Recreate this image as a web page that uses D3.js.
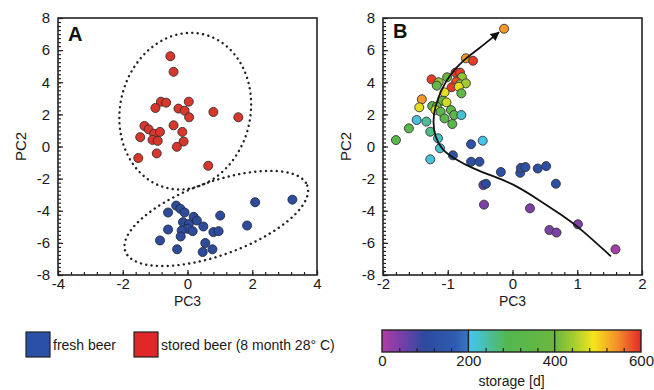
<!DOCTYPE html>
<html>
<head>
<meta charset="utf-8">
<script src="https://cdn.jsdelivr.net/npm/d3@7"></script>
<style>
  body { margin: 0; background: #fff; }
  svg { display: block; font-family: "Liberation Sans", Arial, sans-serif; }
</style>
</head>
<body>
<div id="chart"></div>
<script>
// panel A: fresh vs stored beer
const freshPC3 = [-0.35, -0.22, -0.60, -0.09, 0.19, 0.29, -0.14, 0.04, 0.00, 0.16, -0.18, -0.60, 0.49, 1.01, 0.80, 0.96, 1.84, 2.09, 3.24, -0.85, -0.21, -0.32, 0.55, 0.77, 0.47];
const freshPC2 = [-3.68, -3.88, -4.11, -4.11, -4.38, -4.61, -4.71, -4.83, -5.12, -5.27, -5.23, -5.17, -4.98, -4.30, -5.33, -5.27, -4.92, -3.47, -3.31, -5.85, -5.60, -6.40, -6.01, -6.40, -6.57];
const storedPC3 = [-0.53, -0.43, -0.82, -0.66, -0.99, 0.04, -0.28, -0.09, 0.05, 0.80, 1.57, -1.33, -1.20, -1.03, -0.85, -1.46, -1.08, -0.92, -0.43, -0.16, -0.12, -0.33, -0.95, -1.52, 0.64];
const storedPC2 = [5.62, 4.65, 2.79, 2.73, 2.40, 2.79, 2.36, 2.23, 1.82, 2.15, 1.82, 1.28, 1.07, 0.79, 0.91, 0.58, 0.41, 0.35, 1.32, 0.91, 0.31, -0.02, -0.43, -0.72, -1.20];

// confidence ellipses: centre, major half-axis vector, minor half-axis vector (data units)
const storedEllipse = [-0.07, 2.20, 0.55, 4.79, 1.96, -0.91];
const freshEllipse = [0.89, -4.48, 2.81, 2.05, 0.39, -2.14];

// panel B: storage series
const agingPC3 = [-0.13, -0.72, -0.61, -0.88, -0.81, -1.25, -1.14, -1.01, -0.78, -0.87, -0.81, -0.72, -1.17, -0.94, -0.83, -0.79, -1.05, -1.40, -1.08, -1.02, -1.44, -1.24, -1.17, -1.19, -1.11, -0.95, -0.90, -0.79, -1.05, -1.48, -1.33, -0.93, -1.60, -1.27, -1.80, -1.15, -1.12, -1.27, -0.92, -0.64, -0.46, -0.64, -0.51, -0.18, 0.12, 0.13, 0.20, 0.39, 0.52, 0.67, -0.45, -0.41, -0.44, 0.27, 0.57, 0.68, 1.01, 1.59];
const agingPC2 = [7.33, 5.49, 5.34, 4.60, 4.60, 4.18, 4.00, 4.31, 4.31, 4.04, 3.87, 3.93, 3.79, 3.69, 3.72, 3.31, 3.37, 2.94, 2.85, 2.75, 2.44, 2.52, 2.48, 2.27, 2.17, 2.27, 1.96, 1.96, 1.75, 1.65, 1.55, 1.40, 1.13, 0.92, 0.40, 0.51, -0.11, -0.80, -0.55, 0.14, 0.36, -0.95, -0.95, -1.59, -1.64, -1.33, -1.28, -1.37, -1.22, -2.32, -2.40, -2.32, -3.62, -3.85, -5.20, -5.36, -4.84, -6.40];
const agingDays = [540, 540, 590, 590, 590, 590, 430, 380, 430, 580, 440, 440, 360, 590, 480, 350, 480, 540, 380, 470, 480, 330, 340, 470, 340, 330, 330, 220, 330, 215, 250, 320, 320, 260, 320, 225, 220, 215, 130, 130, 205, 120, 120, 120, 120, 120, 120, 120, 120, 110, 60, 100, 40, 40, 40, 40, 40, 10];

// trend line drawn through panel B
const trendPC3 = [1.52, 1.05, 0.79, 0.40, 0.0, -0.30, -0.60, -0.91, -1.09, -1.20, -1.23, -1.20, -1.09, -0.97, -0.76, -0.53, -0.21];
const trendPC2 = [-6.84, -5.10, -4.35, -3.30, -2.30, -1.85, -1.40, -0.73, -0.22, 0.61, 1.54, 2.48, 3.62, 4.45, 5.39, 6.05, 7.11];

// colour bar
const dayStops = [0, 50, 100, 170, 198, 204, 290, 400, 445, 490, 545, 600];
const dayColors = ['#b23ca6', '#7040a8', '#2c4aa0', '#2f5cb0', '#3874c2', '#44c4ee', '#52b850', '#6cb63e', '#a6ce30', '#f4e41c', '#f4902a', '#e42828'];
const dayTicks = [0, 200, 400, 600];
const dayDividers = [200, 400];

const ticksPC2 = [-8, -6, -4, -2, 0, 2, 4, 6, 8];
const ticksA = [-4, -2, 0, 2, 4];
const ticksB = [-2, -1, 0, 1, 2];

const legendItems = ['fresh beer', 'stored beer (8 month 28° C)'];

const W = 654, H = 390;
const svg = d3.select('#chart').append('svg').attr('width', W).attr('height', H);
const defs = svg.append('defs');

const plotTop = 18, plotBottom = 275;
const colorScale = d3.scaleLinear().domain(dayStops).range(dayColors);

function drawFrame(x0, x1, xDomain, xMajor, xMinorStep, letter, letterY) {
    const x = d3.scaleLinear().domain(xDomain).range([x0, x1]);
    const y = d3.scaleLinear().domain([-8, 8]).range([plotBottom, plotTop]);
    const g = svg.append('g');

    const xMinor = d3.range(xDomain[0], xDomain[1] + 1e-6, xMinorStep);
    const yMinor = d3.range(-8, 8 + 1e-6, 0.25);

    g.append('g').attr('transform', `translate(0,${plotBottom})`)
        .call(d3.axisBottom(x).tickValues(xMinor).tickSize(-3).tickFormat(''))
        .call(a => a.select('.domain').remove());
    g.append('g').attr('transform', `translate(${x0},0)`)
        .call(d3.axisLeft(y).tickValues(yMinor).tickSize(-3).tickFormat(''))
        .call(a => a.select('.domain').remove());

    g.append('g').attr('transform', `translate(0,${plotBottom})`)
        .call(d3.axisBottom(x).tickValues(xMajor).tickSize(-5).tickPadding(3).tickFormat(d3.format('d')))
        .call(a => a.select('.domain').remove());
    g.append('g').attr('transform', `translate(${x0},0)`)
        .call(d3.axisLeft(y).tickValues(ticksPC2).tickSize(-5).tickPadding(8).tickFormat(d3.format('d')))
        .call(a => a.select('.domain').remove());

    g.selectAll('.tick line').attr('stroke', '#222').attr('stroke-width', 1.2);
    g.selectAll('.tick text').attr('font-size', 15).attr('fill', '#1a1a1a')
        .attr('font-family', '"Liberation Sans", Arial, sans-serif')
        .text(function () { return this.textContent.replace('−', '-'); });

    g.append('rect').attr('x', x0).attr('y', plotTop).attr('width', x1 - x0).attr('height', plotBottom - plotTop)
        .attr('fill', 'none').attr('stroke', '#222').attr('stroke-width', 1.6);

    g.append('text').attr('x', (x0 + x1) / 2).attr('y', 306).attr('text-anchor', 'middle')
        .attr('font-size', 14).attr('fill', '#1a1a1a').text('PC3');
    g.append('text').attr('transform', `translate(${x0 - 32},${(plotTop + plotBottom) / 2}) rotate(-90)`)
        .attr('text-anchor', 'middle').attr('font-size', 15).attr('fill', '#1a1a1a').text('PC2');
    g.append('text').attr('x', x0 + 10).attr('y', letterY).attr('font-size', 20)
        .attr('font-weight', 'bold').attr('fill', '#111').text(letter);

    return {x, y, g};
}

// ---- panel A
const A = drawFrame(58, 317, [-4, 4], ticksA, 0.4, 'A', 41);

function ellipsePath(p, x, y) {
    const pts = d3.range(0, 2 * Math.PI + 0.01, Math.PI / 90).map(t => [
        x(p[0] + p[2] * Math.cos(t) + p[4] * Math.sin(t)),
        y(p[1] + p[3] * Math.cos(t) + p[5] * Math.sin(t))
    ]);
    return d3.line()(pts);
}

[storedEllipse, freshEllipse].forEach(p => {
    A.g.append('path').attr('d', ellipsePath(p, A.x, A.y))
        .attr('fill', 'none').attr('stroke', '#222').attr('stroke-width', 2.4)
        .attr('stroke-linecap', 'round').attr('stroke-dasharray', '0.1 5.3');
});

A.g.selectAll('.stored').data(storedPC3).enter().append('circle')
    .attr('cx', d => A.x(d)).attr('cy', (d, i) => A.y(storedPC2[i])).attr('r', 4.5)
    .attr('fill', '#d8382c').attr('stroke', '#3a2a2a').attr('stroke-width', 0.9);
A.g.selectAll('.fresh').data(freshPC3).enter().append('circle')
    .attr('cx', d => A.x(d)).attr('cy', (d, i) => A.y(freshPC2[i])).attr('r', 4.5)
    .attr('fill', '#2f4c9c').attr('stroke', '#1e2a44').attr('stroke-width', 0.9);

// ---- panel B
const B = drawFrame(383, 642, [-2, 2], ticksB, 0.2, 'B', 38);

B.g.selectAll('.aging').data(agingPC3).enter().append('circle')
    .attr('cx', d => B.x(d)).attr('cy', (d, i) => B.y(agingPC2[i])).attr('r', 4.5)
    .attr('fill', (d, i) => colorScale(agingDays[i]))
    .attr('stroke', '#333').attr('stroke-width', 0.9);

defs.append('marker')
    .attr('id', 'arrow').attr('viewBox', '0 0 10 10').attr('refX', 9).attr('refY', 5)
    .attr('markerWidth', 5).attr('markerHeight', 5).attr('orient', 'auto')
    .append('path').attr('d', 'M0,0L10,5L0,10z').attr('fill', '#111');

B.g.append('path')
    .attr('d', d3.line().curve(d3.curveBasis)(trendPC3.map((d, i) => [B.x(d), B.y(trendPC2[i])])))
    .attr('fill', 'none').attr('stroke', '#111').attr('stroke-width', 1.8)
    .attr('marker-end', 'url(#arrow)');

// ---- legend (categories)
const legendColors = ['#2a50a8', '#e02828'];
const legendX = [26, 134];
legendItems.forEach((t, i) => {
    svg.append('rect').attr('x', legendX[i]).attr('y', 332).attr('width', 24).attr('height', 25)
        .attr('fill', legendColors[i]).attr('stroke', '#222').attr('stroke-width', 1.2);
    svg.append('text').attr('x', legendX[i] + 27).attr('y', 350).attr('font-size', 14)
        .attr('fill', '#1a1a1a').text(t);
});

// ---- colour bar
const cb = d3.scaleLinear().domain([0, 600]).range([382, 641]);
const grad = defs.append('linearGradient').attr('id', 'days')
    .attr('x1', '0%').attr('x2', '100%');
dayStops.forEach((d, i) => grad.append('stop').attr('offset', (d / 600 * 100) + '%').attr('stop-color', dayColors[i]));

const cbTop = 330, cbBottom = 352;
svg.append('rect').attr('x', cb(0)).attr('y', cbTop).attr('width', cb(600) - cb(0)).attr('height', cbBottom - cbTop)
    .attr('fill', 'url(#days)');

const cbAxis = svg.append('g').attr('transform', `translate(0,${cbBottom})`);
cbAxis.append('g').call(d3.axisBottom(cb).tickValues(d3.range(40, 600, 40).filter(d => d % 200 !== 0)).tickSize(-4).tickFormat(''))
    .call(a => a.select('.domain').remove());
cbAxis.append('g').call(d3.axisBottom(cb).tickValues(dayTicks).tickSize(0).tickPadding(3))
    .call(a => a.select('.domain').remove());
cbAxis.selectAll('.tick line').attr('stroke', '#222').attr('stroke-width', 1.2);
cbAxis.selectAll('.tick text').attr('font-size', 15).attr('fill', '#1a1a1a')
    .attr('font-family', '"Liberation Sans", Arial, sans-serif');

svg.selectAll('.divider').data(dayDividers).enter().append('line')
    .attr('x1', d => cb(d)).attr('x2', d => cb(d)).attr('y1', cbTop).attr('y2', cbBottom)
    .attr('stroke', '#222').attr('stroke-width', 1.4);
svg.append('rect').attr('x', cb(0)).attr('y', cbTop).attr('width', cb(600) - cb(0)).attr('height', cbBottom - cbTop)
    .attr('fill', 'none').attr('stroke', '#222').attr('stroke-width', 1.4);

svg.append('text').attr('x', (cb(0) + cb(600)) / 2).attr('y', 386).attr('text-anchor', 'middle')
    .attr('font-size', 14).attr('fill', '#1a1a1a').text('storage [d]');
</script>
</body>
</html>
